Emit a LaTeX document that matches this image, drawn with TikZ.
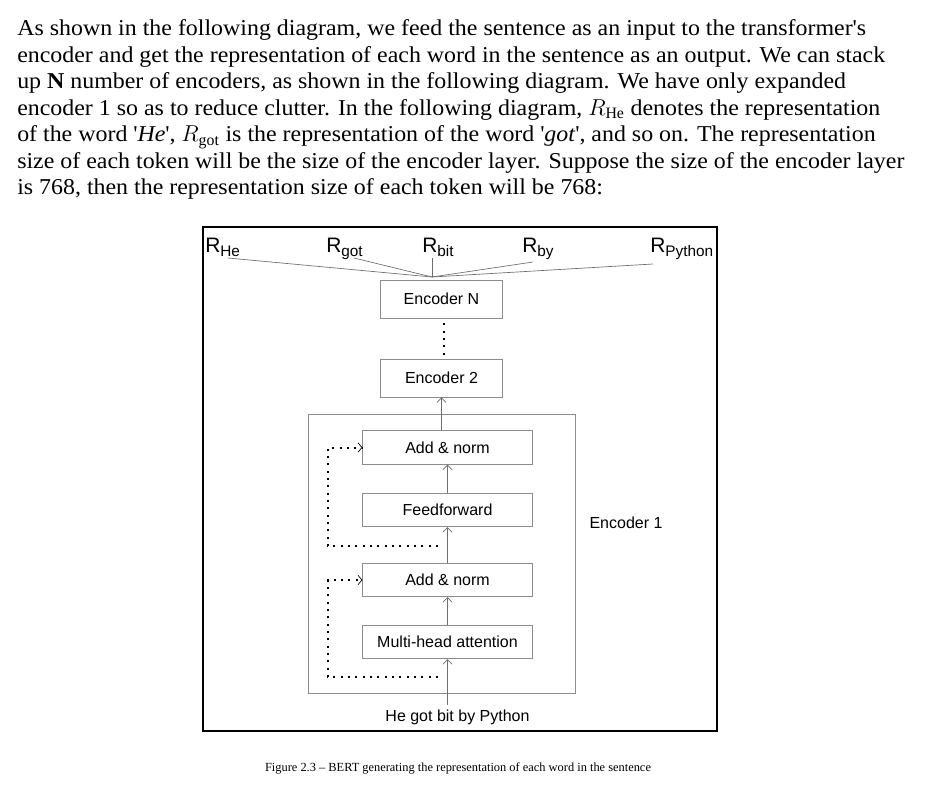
\documentclass[tikz,border=0pt]{standalone}
\usepackage{fontspec}
\setmainfont{Liberation Serif}
\newfontfamily\bodyfont[FakeStretch=1.055]{Liberation Serif}
\newfontfamily\diagfont{Liberation Sans}
\usetikzlibrary{arrows.meta, positioning, calc}
\definecolor{EncGray}{HTML}{8C8C8C}
\definecolor{EncLine}{HTML}{6E6E6E}
\newcommand{\repr}[1]{{\fontsize{15.7}{16}\selectfont R}\raisebox{-3.5pt}{\fontsize{11.5}{12}\selectfont #1}}

\begin{document}
\begin{tikzpicture}[x=0.75pt, y=-0.75pt, >={Straight Barb[length=3.5pt, width=7pt]},
    encbox/.style={rectangle, draw=EncGray, line width=0.6pt, fill=white, minimum width=92pt, minimum height=28.5pt, inner sep=0pt, font=\diagfont\fontsize{12}{14}\selectfont},
    sublayer/.style={encbox, minimum width=127pt, minimum height=25pt},
    tag/.style={inner sep=0pt, font=\diagfont\fontsize{12}{14}\selectfont},
    rlabel/.style={anchor=base west, inner sep=0pt, font=\diagfont},
    wire/.style={EncLine, line width=0.5pt},
    flow/.style={wire, ->},
    dots/.style={black, line width=1.5pt, dash pattern=on 1.5pt off 4pt},
    skip/.style={dots, -{Straight Barb[length=3pt, width=7pt, line width=0.5pt]}}]
    \useasboundingbox (0,0) rectangle (939,793);
    \fill[white] (0,0) rectangle (939,793);

    % text above the figure
    \node[anchor=north west, align=left, inner sep=0pt, font=\bodyfont\fontsize{17}{19.9}\selectfont] (para) at (17,19.5) {As shown in the following diagram, we feed the sentence as an input to the transformer\textquotesingle s\\
    encoder and get the representation of each word in the sentence as an output. We can stack\\
    up \textbf{N} number of encoders, as shown in the following diagram. We have only expanded\\
    encoder 1 so as to reduce clutter. In the following diagram, $R_{\mathrm{He}}$ denotes the representation\\
    of the word \textquotesingle\textit{He}\textquotesingle, $R_{\mathrm{got}}$ is the representation of the word \textquotesingle\textit{got}\textquotesingle, and so on. The representation\\
    size of each token will be the size of the encoder layer. Suppose the size of the encoder layer\\
    is 768, then the representation size of each token will be 768:};

    % frames
    \node[draw=black, line width=1.9pt, minimum width=385.5pt, minimum height=378pt] (frame) at (460,479) {};
    \node[draw=EncGray, line width=0.6pt, minimum width=200.25pt, minimum height=209.25pt] (enc1) at (441.5,553.5) {};
    \node[tag] (enc1label) at (626,523) {Encoder 1};

    % encoder stack
    \node[encbox] (encN) at (441.5,299) {Encoder N};
    \node[encbox] (enc2) at (441.5,378) {Encoder 2};
    \node[sublayer] (addB) at (447.5,447.5) {Add \& norm};
    \node[sublayer] (ffn) at (447.5,510) {Feedforward};
    \node[sublayer] (addA) at (447.5,580) {Add \& norm};
    \node[sublayer] (mha) at (447.5,642) {Multi-head attention};
    \node[tag, inner sep=3.5pt] (sent) at (457.5,717) {He got bit by Python};

    % outputs
    \node[rlabel] (rHe) at (205,252) {\repr{He}};
    \node[rlabel] (rGot) at (326,252) {\repr{got}};
    \node[rlabel] (rBit) at (422,252) {\repr{bit}};
    \node[rlabel] (rBy) at (522,252) {\repr{by}};
    \node[rlabel] (rPy) at (650,252) {\repr{Python}};

    \coordinate (join) at (432,277);
    \coordinate (tHe) at (228,258);
    \coordinate (tGot) at (354,258);
    \coordinate (tBit) at (432,258);
    \coordinate (tBy) at (533,262);
    \coordinate (tPy) at (653,264);
    \draw[wire] (tHe) -- (join);
    \draw[wire] (tGot) -- (join);
    \draw[wire] (tBit) -- (join);
    \draw[wire] (tBy) -- (join);
    \draw[wire] (tPy) -- (join);

    \draw[dots] ([xshift=2pt, yshift=-3.75pt]encN.south) -- ([xshift=2pt, yshift=1.5pt]enc2.north);
    \draw[flow] (addB.north -| enc2.south) -- (enc2.south);
    \draw[flow] (ffn) -- (addB);
    \draw[flow] (addA) -- (ffn);
    \draw[flow] (mha) -- (addA);
    \draw[flow] (sent.north -| mha.south) -- (mha.south);

    % residual connections
    \coordinate (resA) at (438,677);
    \coordinate (resB) at (438,546);
    \draw[skip] (resA) -- ++(-110,0) |- (addA.west);
    \draw[skip] (resB) -- ++(-110,0) |- (addB.west);

    \node[font=\fontsize{9.3}{11}\selectfont] (caption) at (458,768) {Figure 2.3 \textendash{} BERT generating the representation of each word in the sentence};
\end{tikzpicture}
\end{document}
